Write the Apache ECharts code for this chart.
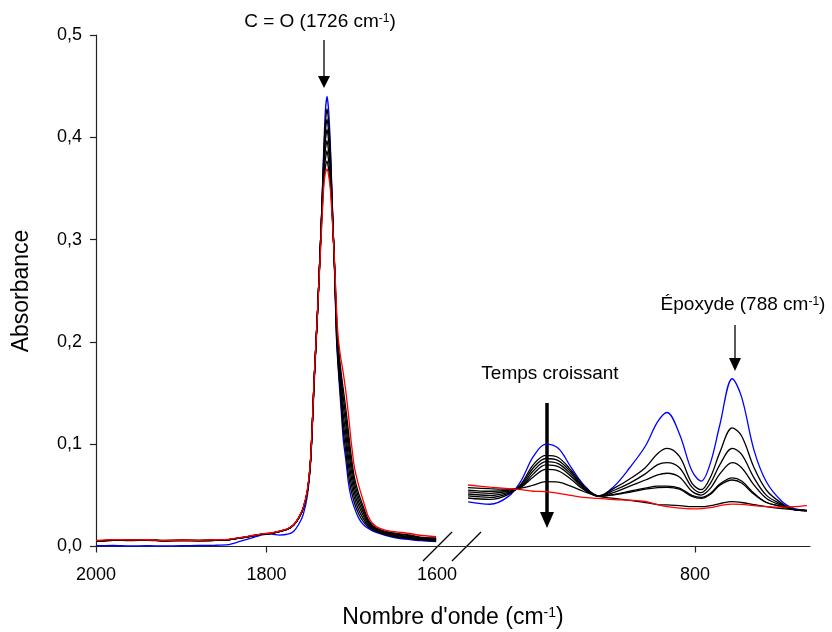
<!DOCTYPE html>
<html><head><meta charset="utf-8">
<script src="https://cdn.jsdelivr.net/npm/echarts@6/dist/echarts.min.js"></script>
<style>html,body{margin:0;padding:0;background:#fff}#c{width:832px;height:632px}</style>
</head><body><div id="c"></div>
<script>
// Wavenumbers (cm-1), left part of the broken axis
const wnLeft = [2000,1980,1960,1940,1920,1900,1880,1860,1845,1835,1825,1815,1805,1795,1785,1775,1768,1762,1757,1752,1748,1744,1740,1736,1733,1731,1729,1727,1725,1723,1720,1718,1716,1713,1710,1707,1704,1701,1697,1692,1687,1681,1675,1667,1655,1645,1632,1620,1601];
// Wavenumbers (cm-1), right part of the broken axis
const wnRight = [873,866,860,856,852,848,844,840,836,831,826,821,816,812,809,805,801,798,795,792,788,785,781,777,772,768,764];

// Absorbance, left part
const blueLeft = [0.0008,0.001,0.0005,0.0008,0.0006,0.0008,0.001,0.0012,0.0018,0.004,0.0065,0.009,0.0115,0.012,0.0112,0.012,0.015,0.022,0.031,0.05,0.085,0.16,0.23,0.31,0.385,0.425,0.44,0.425,0.39,0.34,0.265,0.205,0.175,0.14,0.105,0.085,0.063,0.049,0.038,0.028,0.022,0.0178,0.015,0.0125,0.0096,0.008,0.0068,0.0058,0.0047];
const black1Left = [0.005,0.0062,0.0058,0.0063,0.0055,0.0058,0.0056,0.006,0.0065,0.0078,0.009,0.0105,0.012,0.0128,0.0145,0.017,0.021,0.028,0.037,0.054,0.088,0.165,0.232,0.31,0.38,0.414,0.428,0.414,0.385,0.338,0.266,0.209,0.179,0.146,0.113,0.093,0.071,0.056,0.043,0.032,0.025,0.0193,0.0159,0.0132,0.0103,0.0088,0.0075,0.0064,0.0053];
const black2Left = [0.0052,0.006,0.006,0.0061,0.0057,0.0059,0.0057,0.0061,0.0066,0.0078,0.009,0.0106,0.012,0.0128,0.0146,0.017,0.021,0.028,0.037,0.054,0.088,0.165,0.232,0.31,0.375,0.405,0.418,0.404,0.378,0.335,0.268,0.213,0.183,0.151,0.121,0.102,0.080,0.063,0.048,0.036,0.028,0.0208,0.0168,0.0138,0.011,0.0095,0.0083,0.0069,0.0059];
const black3Left = [0.0054,0.0061,0.0059,0.0062,0.0056,0.006,0.0058,0.006,0.0066,0.0079,0.0091,0.0106,0.0121,0.0129,0.0146,0.0171,0.0212,0.0282,0.0372,0.0542,0.0882,0.165,0.232,0.31,0.37,0.396,0.408,0.395,0.372,0.333,0.269,0.216,0.186,0.157,0.129,0.110,0.088,0.070,0.053,0.04,0.031,0.0223,0.0176,0.0145,0.0116,0.0103,0.009,0.0075,0.0065];
const black4Left = [0.0053,0.006,0.0061,0.006,0.0057,0.0059,0.0058,0.0061,0.0067,0.0079,0.0091,0.0107,0.0121,0.0129,0.0147,0.0171,0.0212,0.0282,0.0372,0.0542,0.0882,0.165,0.232,0.31,0.365,0.387,0.397,0.385,0.366,0.331,0.27,0.22,0.19,0.163,0.138,0.119,0.097,0.077,0.058,0.044,0.034,0.0238,0.0185,0.0152,0.0123,0.011,0.0098,0.0081,0.0071];
const black5Left = [0.0055,0.0062,0.006,0.0062,0.0058,0.006,0.0059,0.0062,0.0067,0.008,0.0092,0.0107,0.0122,0.013,0.0147,0.0172,0.0213,0.0283,0.0373,0.0543,0.0883,0.165,0.232,0.31,0.36,0.378,0.387,0.376,0.36,0.328,0.271,0.224,0.194,0.168,0.146,0.127,0.105,0.084,0.063,0.048,0.037,0.0253,0.0194,0.0158,0.013,0.0118,0.0105,0.0086,0.0077];
const black6Left = [0.0056,0.0063,0.0061,0.0063,0.0059,0.0061,0.006,0.0063,0.0068,0.008,0.0092,0.0108,0.0122,0.013,0.0148,0.0172,0.0213,0.0284,0.0374,0.0544,0.0884,0.165,0.232,0.305,0.355,0.37,0.377,0.368,0.354,0.326,0.273,0.228,0.198,0.174,0.154,0.135,0.113,0.091,0.068,0.052,0.04,0.0268,0.0203,0.0165,0.0137,0.0125,0.0113,0.0092,0.0083];
const redLeft = [0.006,0.0068,0.0065,0.0066,0.006,0.0062,0.006,0.0066,0.007,0.0082,0.0094,0.011,0.0124,0.0132,0.015,0.0175,0.0215,0.029,0.038,0.056,0.09,0.166,0.232,0.30,0.35,0.365,0.369,0.362,0.348,0.322,0.275,0.235,0.205,0.185,0.17,0.152,0.13,0.105,0.078,0.06,0.046,0.03,0.022,0.0178,0.015,0.014,0.0127,0.011,0.0096];

// Absorbance, right part
const blueRight = [0.0436,0.0413,0.049,0.064,0.088,0.100,0.096,0.078,0.061,0.049,0.059,0.077,0.098,0.122,0.131,0.110,0.074,0.064,0.082,0.119,0.164,0.146,0.094,0.063,0.044,0.037,0.0355];
const black1Right = [0.0474,0.046,0.051,0.061,0.080,0.089,0.087,0.075,0.060,0.0495,0.057,0.066,0.077,0.091,0.096,0.088,0.062,0.0555,0.068,0.092,0.116,0.108,0.077,0.055,0.042,0.036,0.035];
const black2Right = [0.0494,0.048,0.052,0.060,0.077,0.086,0.084,0.073,0.059,0.0495,0.055,0.062,0.071,0.080,0.082,0.077,0.058,0.0526,0.062,0.080,0.096,0.090,0.067,0.050,0.041,0.036,0.035];
const black3Right = [0.0513,0.050,0.053,0.059,0.074,0.083,0.081,0.071,0.058,0.0495,0.053,0.059,0.065,0.070,0.0716,0.068,0.054,0.0503,0.057,0.071,0.082,0.077,0.060,0.047,0.040,0.036,0.035];
const black4Right = [0.0533,0.052,0.054,0.058,0.071,0.0797,0.078,0.069,0.057,0.049,0.051,0.054,0.057,0.059,0.059,0.057,0.050,0.048,0.052,0.061,0.067,0.064,0.052,0.043,0.039,0.036,0.035];
const black5Right = [0.0552,0.054,0.055,0.058,0.068,0.0754,0.074,0.066,0.056,0.049,0.0505,0.053,0.056,0.0575,0.0578,0.056,0.049,0.047,0.051,0.060,0.065,0.062,0.051,0.043,0.039,0.036,0.035];
const black6Right = [0.0575,0.0565,0.056,0.057,0.060,0.0634,0.063,0.059,0.054,0.049,0.047,0.045,0.043,0.041,0.0406,0.040,0.039,0.0389,0.040,0.042,0.0438,0.043,0.041,0.039,0.037,0.036,0.035];
const redRight = [0.0601,0.058,0.0565,0.0555,0.054,0.0536,0.052,0.050,0.048,0.047,0.0458,0.0452,0.044,0.041,0.039,0.0375,0.0368,0.037,0.038,0.040,0.0415,0.0412,0.040,0.039,0.0385,0.039,0.040];

// Tick labels
const leftTickLabels = [2000, 1800, 1600];
const leftTicks = [2000, 1800];
const rightTickLabels = [800];

const FONT = 'Liberation Sans, Arial, Helvetica, sans-serif';
const curves = [
  {l: blueLeft, r: blueRight, c: '#0000ff'},
  {l: black1Left, r: black1Right, c: '#000000'},
  {l: black2Left, r: black2Right, c: '#000000'},
  {l: black3Left, r: black3Right, c: '#000000'},
  {l: black4Left, r: black4Right, c: '#000000'},
  {l: black5Left, r: black5Right, c: '#000000'},
  {l: black6Left, r: black6Right, c: '#000000'},
  {l: redLeft, r: redRight, c: '#ff0000'}
];
const series = [];
curves.forEach(cv => {
  series.push({type:'line', xAxisIndex:0, yAxisIndex:0, data: wnLeft.map((w,i)=>[w, cv.l[i]]),
    showSymbol:false, symbol:'none', smooth:0.2, lineStyle:{color:cv.c, width:1.3}, itemStyle:{color:cv.c}, silent:true});
  series.push({type:'line', xAxisIndex:1, yAxisIndex:1, data: wnRight.map((w,i)=>[w, cv.r[i]]),
    showSymbol:false, symbol:'none', smooth:0.35, lineStyle:{color:cv.c, width:1.3}, itemStyle:{color:cv.c}, silent:true});
});

const axisCol = '#222';
const chart = echarts.init(document.getElementById('c'), null, {renderer:'canvas'});
const sup = {fontSize: 12, fontFamily: FONT, verticalAlign: 'top', fill: '#000'};
const plain = v => String(v);
chart.setOption({
  animation: false,
  backgroundColor: '#fff',
  grid: [
    {left: 96, top: 35, width: 341, height: 511.5},
    {left: 437, top: 35, width: 373, height: 511.5}
  ],
  xAxis: [
    {type:'value', gridIndex:0, min:1600, max:2000, inverse:true,
     axisLine:{show:true, onZero:false, lineStyle:{color:axisCol, width:1.2}},
     axisTick:{show:true, length:6, customValues:leftTicks, lineStyle:{color:axisCol, width:1.2}},
     axisLabel:{customValues:leftTickLabels, formatter:plain, margin:20, fontSize:18, color:'#000', fontFamily:FONT},
     splitLine:{show:false}},
    {type:'value', gridIndex:1, min:763, max:883, inverse:true,
     axisLine:{show:true, onZero:false, lineStyle:{color:axisCol, width:1.2}},
     axisTick:{show:true, length:6, customValues:rightTickLabels, lineStyle:{color:axisCol, width:1.2}},
     axisLabel:{customValues:rightTickLabels, formatter:plain, margin:20, fontSize:18, color:'#000', fontFamily:FONT},
     splitLine:{show:false}}
  ],
  yAxis: [
    {type:'value', gridIndex:0, min:0, max:0.5, interval:0.1,
     axisLine:{show:true, onZero:false, lineStyle:{color:axisCol, width:1.2}},
     axisTick:{show:true, length:6, lineStyle:{color:axisCol, width:1.2}},
     axisLabel:{margin:14, fontSize:18, color:'#000', fontFamily:FONT,
       formatter: v => v.toFixed(1).replace('.', ',')},
     splitLine:{show:false}},
    {type:'value', gridIndex:1, min:0, max:0.5, show:false, splitLine:{show:false}}
  ],
  series: series,
  graphic: [
    {type:'text', x:22, y:291, rotation:Math.PI/2, style:{text:'Absorbance', fontSize:23, fontFamily:FONT, fill:'#000', textAlign:'center', textVerticalAlign:'middle'}},
    {type:'text', x:453, y:618, style:{text:"{n|Nombre d'onde (cm}{s|-1}{n|)}", textAlign:'center', textVerticalAlign:'middle',
      rich:{n:{fontSize:23, fontFamily:FONT, fill:'#000'}, s:{fontSize:14, fontFamily:FONT, verticalAlign:'top', fill:'#000'}}}},
    {type:'text', x:320, y:22, style:{text:'{n|C = O (1726 cm}{s|-1}{n|)}', textAlign:'center', textVerticalAlign:'middle',
      rich:{n:{fontSize:19, fontFamily:FONT, fill:'#000'}, s:sup}}},
    {type:'line', shape:{x1:324, y1:40, x2:324, y2:80}, style:{stroke:'#000', lineWidth:1.3}},
    {type:'polygon', shape:{points:[[318,76],[330,76],[324,88]]}, style:{fill:'#000'}},
    {type:'text', x:743, y:305, style:{text:'{n|Époxyde (788 cm}{s|-1}{n|)}', textAlign:'center', textVerticalAlign:'middle',
      rich:{n:{fontSize:19, fontFamily:FONT, fill:'#000'}, s:sup}}},
    {type:'line', shape:{x1:735, y1:325, x2:735, y2:362}, style:{stroke:'#000', lineWidth:1.3}},
    {type:'polygon', shape:{points:[[729,358],[741,358],[735,371]]}, style:{fill:'#000'}},
    {type:'text', x:550, y:374, style:{text:'Temps croissant', fontSize:19, fontFamily:FONT, fill:'#000', textAlign:'center', textVerticalAlign:'middle'}},
    {type:'line', shape:{x1:547, y1:403, x2:547, y2:516}, style:{stroke:'#000', lineWidth:3.5}},
    {type:'polygon', shape:{points:[[540,512],[554,512],[547,528]]}, style:{fill:'#000'}},
    {type:'line', shape:{x1:423, y1:561, x2:452, y2:532}, style:{stroke:'#000', lineWidth:1.2}},
    {type:'line', shape:{x1:452, y1:561, x2:481, y2:532}, style:{stroke:'#000', lineWidth:1.2}}
  ]
});
</script></body></html>
